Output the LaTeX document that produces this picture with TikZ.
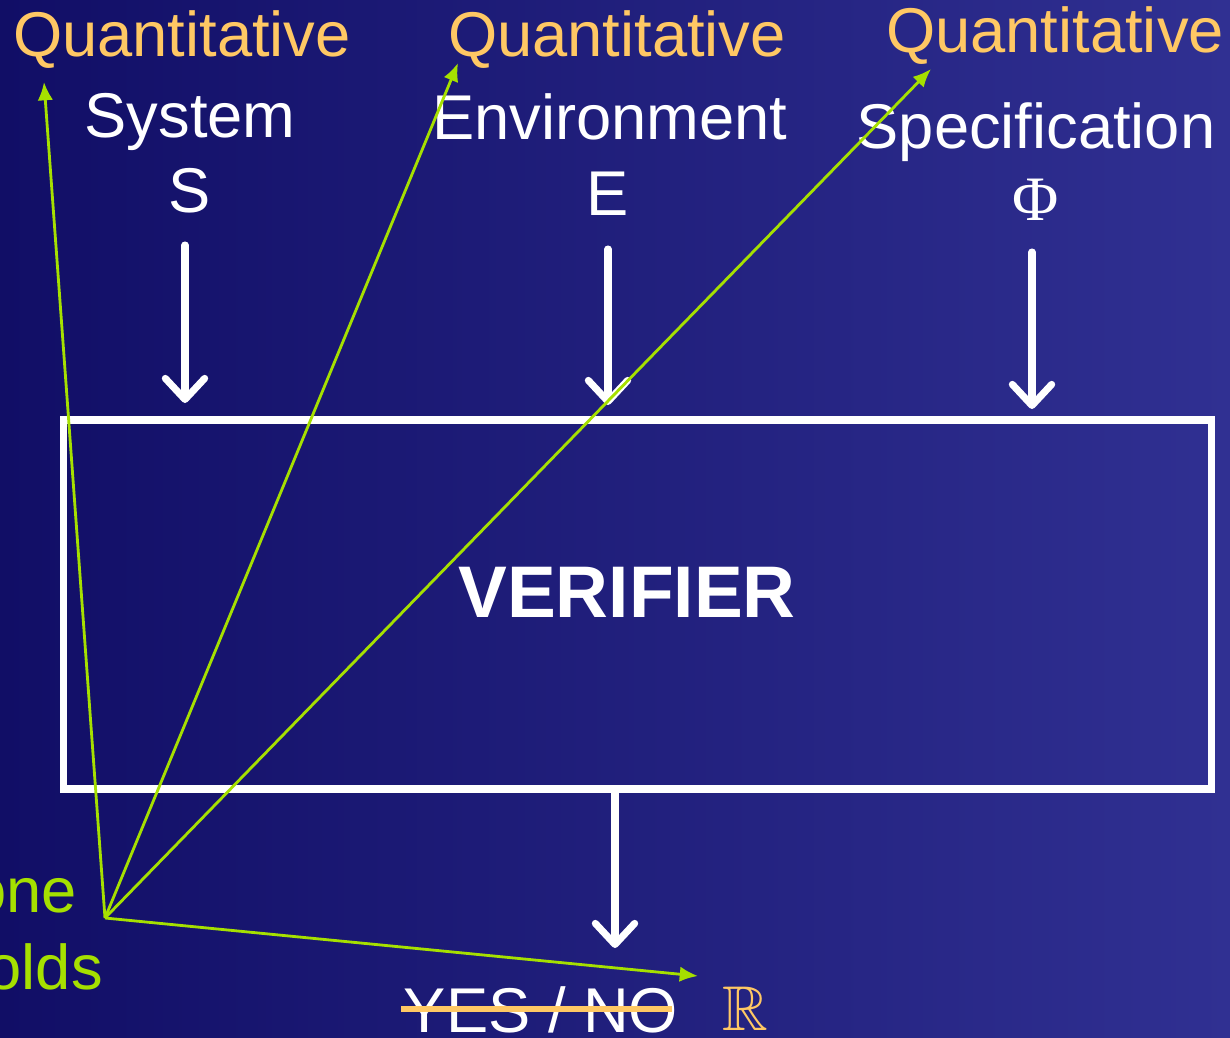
\documentclass[tikz,border=0pt]{standalone}
\usepackage{fontspec}
\usepackage{amssymb}
\setmainfont{Liberation Sans}
\newfontfamily\phifont{Liberation Serif}
\usetikzlibrary{arrows.meta}
\definecolor{bgleft}{RGB}{17,14,102}
\definecolor{bgright}{RGB}{48,48,146}
\definecolor{quant}{RGB}{255,200,100}
\definecolor{lime}{RGB}{166,224,0}
\tikzset{
  lbl/.style={text=white, font=\fontsize{45}{54}\selectfont, anchor=base, inner sep=0pt},
  qlbl/.style={text=quant, font=\fontsize{45}{54}\selectfont, anchor=base, inner sep=0pt},
  glbl/.style={text=lime, font=\fontsize{45}{54}\selectfont, anchor=base east, inner sep=0pt},
  warrow/.style={draw=white, line width=5pt, line cap=round, -{Straight Barb[length=15pt,width=28pt,round]}},
  garrow/.style={draw=lime, line width=2pt, -{Latex[length=13pt,width=11pt]}}
}
\begin{document}
\begin{tikzpicture}[x=0.025cm, y=-0.025cm]
\shade[left color=bgleft, right color=bgright] (0,0) rectangle (1230,1038);
\useasboundingbox (0,0) rectangle (1230,1038);
% box
\draw[white, line width=5pt] (63.5,420) rectangle (1211.5,789);
\node[text=white, font=\bfseries\fontsize{52}{62}\selectfont, anchor=base, inner sep=0pt] (ver) at (627,617) {VERIFIER};
% labels
\node[qlbl] (q1) at (182,57) {Quantitative};
\node[qlbl] (q2) at (617,57) {Quantitative};
\node[qlbl] (q3) at (1055,53) {Quantitative};
\node[lbl] (sys) at (190,137) {System};
\node[lbl] (S) at (190,212) {S};
\node[lbl] (env) at (610,140) {Environment};
\node[lbl] (E) at (608,215) {E};
\node[lbl] (spec) at (1036,148) {Specification};
\node[text=white, font=\phifont\fontsize{45}{54}\selectfont, anchor=base, inner sep=0pt] (phi) at (1036,220) {Φ};
% white arrows
\coordinate (a1s) at (185,245); \coordinate (a1e) at (185,403);
\coordinate (a2s) at (608,249); \coordinate (a2e) at (608,405);
\coordinate (a3s) at (1032,252); \coordinate (a3e) at (1032,409);
\coordinate (a4s) at (615,793); \coordinate (a4e) at (615,948);
\draw[warrow] (a1s) -- (a1e);
\draw[warrow] (a2s) -- (a2e);
\draw[warrow] (a3s) -- (a3e);
\draw[warrow] (a4s) -- (a4e);
% result
\node[lbl] (yn) at (541,1032) {YES / NO};
\draw[quant, line width=4.5pt] (401,1009) -- (672,1009);
\node[text=quant, font=\fontsize{45}{54}\selectfont, anchor=base, inner sep=0pt] (R) at (745,1030) {$\mathbb{R}$};
% green
\node[glbl] (one) at (77,912) {one};
\node[glbl] (olds) at (103,989) {olds};
\coordinate (hub) at (105,918);
\coordinate (g1) at (44,82);
\coordinate (g2) at (458,63);
\coordinate (g3) at (931,69);
\coordinate (g4) at (698,976);
\draw[garrow] (hub) -- (g1);
\draw[garrow] (hub) -- (g2);
\draw[garrow] (hub) -- (g3);
\draw[garrow] (hub) -- (g4);
\end{tikzpicture}
\end{document}
